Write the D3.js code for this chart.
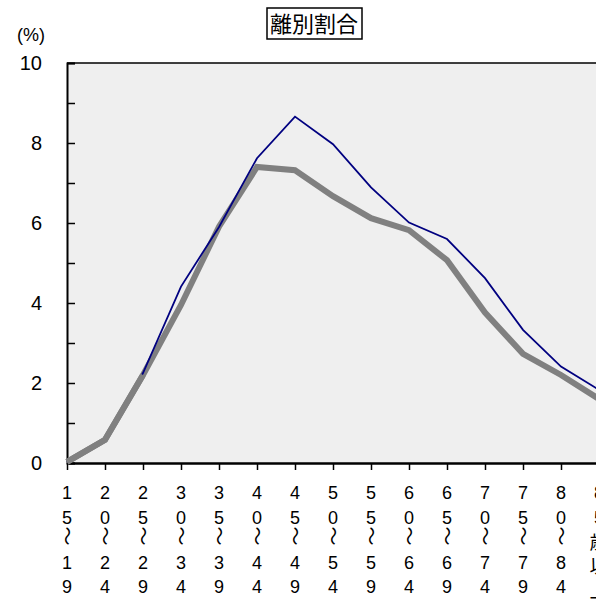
<!DOCTYPE html>
<html>
<head>
<meta charset="utf-8">
<script src="https://cdn.jsdelivr.net/npm/d3@7"></script>
<style>
  body { margin: 0; background: #fff; overflow: hidden; }
  svg { display: block; }
  text { font-family: "Liberation Sans", Arial, sans-serif; fill: #000; }
</style>
</head>
<body>
<svg id="chart" width="596" height="600"></svg>
<script>
// age groups (vertical labels)
let ageGroups = ["15〜19", "20〜24", "25〜29", "30〜34", "35〜39", "40〜44", "45〜49",
  "50〜54", "55〜59", "60〜64", "65〜69", "70〜74", "75〜79", "80〜84", "85歳以上"];
// navy thin line
let blueValues = [0.03, 0.6, 2.25, 4.41, 5.9, 7.62, 8.66, 7.97, 6.89, 6.01, 5.6, 4.62, 3.33, 2.41, 1.83];
// thick grey line
let greyValues = [0.03, 0.58, 2.2, 3.95, 5.91, 7.4, 7.32, 6.67, 6.12, 5.82, 5.07, 3.76, 2.73, 2.2, 1.6];
let yTicks = [0, 2, 4, 6, 8, 10];
let yMinor = d3.range(0, 11, 1);
let titleText = "離別割合";
let unitText = "(%)";

let svg = d3.select("#chart");
let m = { left: 67, top: 63, bottom: 463 };
let cjk = "'Noto Sans CJK JP', sans-serif";

let x = d3.scalePoint().domain(ageGroups).range([67, 67 + 38 * 14]);
let y = d3.scaleLinear().domain([0, 10]).range([m.bottom, m.top]);

// plot background
svg.append("rect")
  .attr("x", m.left).attr("y", m.top)
  .attr("width", 640 - m.left).attr("height", m.bottom - m.top)
  .attr("fill", "#efefef");

// top border
svg.append("line")
  .attr("x1", m.left).attr("x2", 640)
  .attr("y1", m.top).attr("y2", m.top)
  .attr("stroke", "#000").attr("stroke-width", 1.5);

// y axis: ticks pointing inward, every 1
let yAxis = svg.append("g").attr("transform", `translate(${m.left},0)`)
  .call(d3.axisRight(y).tickValues(yMinor).tickSize(8).tickFormat(""));
yAxis.select(".domain").attr("stroke-width", 2);
yAxis.selectAll(".tick line").attr("stroke-width", 1.5);

// y labels
svg.append("g").selectAll("text")
  .data(yTicks)
  .join("text")
  .attr("x", 42)
  .attr("y", d => y(d))
  .attr("dy", "0.36em")
  .attr("text-anchor", "end")
  .attr("font-size", 20)
  .text(d => d);

svg.append("text")
  .attr("x", 31).attr("y", 41)
  .attr("text-anchor", "middle").attr("font-size", 18)
  .text(unitText);

// x axis: ticks pointing down
let xAxis = svg.append("g").attr("transform", `translate(0,${m.bottom})`)
  .call(d3.axisBottom(x).tickSize(7).tickSizeOuter(0).tickFormat(""));
xAxis.select(".domain").attr("stroke-width", 2.5).attr("d", `M${m.left},0.5H640`);
xAxis.selectAll(".tick line").attr("stroke-width", 1.5);

// vertical stacked labels, one char per row
let labels = svg.append("g").selectAll("g")
  .data(ageGroups)
  .join("g")
  .attr("transform", d => `translate(${x(d)},0)`);

labels.each(function(d) {
  let g = d3.select(this);
  let cy = 493, prev = null;
  Array.from(d).forEach((ch, i) => {
    if (i > 0) {
      if (ch === "〜") cy += 18.5;
      else if (prev === "〜") cy += 26.5;
      else cy += 24.5;
    }
    prev = ch;
    if (ch === "〜") {
      g.append("text")
        .attr("transform", `translate(0,${cy}) rotate(90)`)
        .attr("text-anchor", "middle")
        .attr("dy", "0.36em")
        .attr("font-size", 19)
        .style("font-family", cjk)
        .text(ch);
    } else {
      let isDigit = /[0-9]/.test(ch);
      g.append("text")
        .attr("x", 0).attr("y", cy)
        .attr("dy", "0.36em")
        .attr("text-anchor", "middle")
        .attr("font-size", isDigit ? 18 : 19)
        .style("font-family", isDigit ? null : cjk)
        .text(ch);
    }
  });
});

// lines
let line = d3.line()
  .x((d, i) => x(ageGroups[i]))
  .y(d => y(d));

svg.append("path")
  .datum(greyValues)
  .attr("fill", "none")
  .attr("stroke", "#808080")
  .attr("stroke-width", 6)
  .attr("d", line);

svg.append("path")
  .datum(blueValues)
  .attr("fill", "none")
  .attr("stroke", "#000080")
  .attr("stroke-width", 1.8)
  .attr("d", line);

// grey covers blue where they overlap at the start
svg.append("path")
  .datum(greyValues.slice(0, 3))
  .attr("fill", "none")
  .attr("stroke", "#808080")
  .attr("stroke-width", 6)
  .attr("d", line);

// title with box
svg.append("text")
  .attr("x", 314).attr("y", 24).attr("dy", "0.36em")
  .attr("text-anchor", "middle")
  .attr("font-size", 22)
  .style("font-family", cjk)
  .text(titleText);
svg.append("rect")
  .attr("x", 267).attr("y", 8)
  .attr("width", 95).attr("height", 31)
  .attr("fill", "none").attr("stroke", "#000").attr("stroke-width", 1.5);
</script>
</body>
</html>
